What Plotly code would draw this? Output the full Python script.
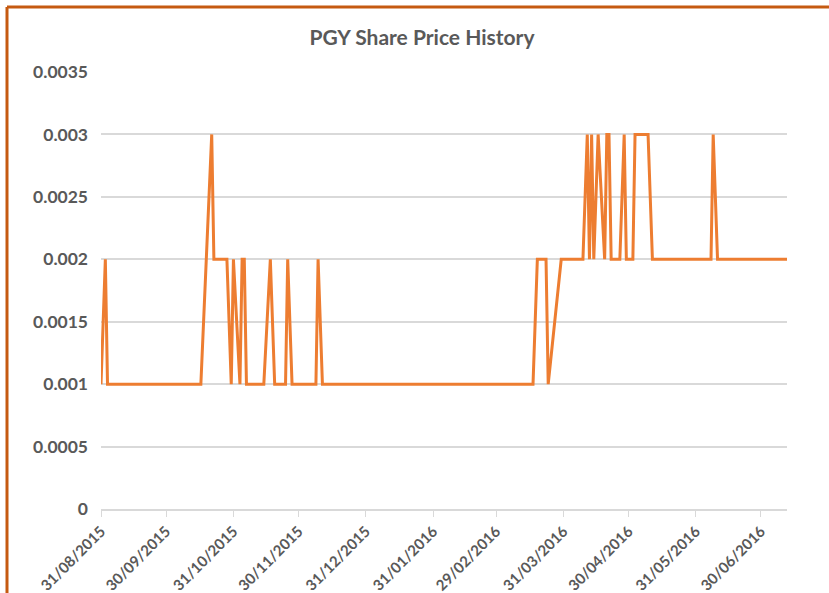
import plotly.graph_objects as go

dates = [
    "2015-08-31", "2015-09-02", "2015-09-03", "2015-10-16", "2015-10-21",
    "2015-10-22", "2015-10-28", "2015-10-30", "2015-10-31", "2015-11-03",
    "2015-11-04", "2015-11-05", "2015-11-06", "2015-11-14", "2015-11-17",
    "2015-11-19", "2015-11-24", "2015-11-25", "2015-11-27", "2015-12-08",
    "2015-12-09", "2015-12-11", "2016-03-17", "2016-03-19", "2016-03-23",
    "2016-03-24", "2016-03-30", "2016-04-09", "2016-04-11", "2016-04-12",
    "2016-04-13", "2016-04-14", "2016-04-16", "2016-04-19", "2016-04-20",
    "2016-04-21", "2016-04-22", "2016-04-26", "2016-04-28", "2016-04-29",
    "2016-05-02", "2016-05-03", "2016-05-09", "2016-05-11", "2016-06-07",
    "2016-06-08", "2016-06-10", "2016-07-12",
]
prices = [
    0.001, 0.002, 0.001, 0.001, 0.003,
    0.002, 0.002, 0.001, 0.002, 0.001,
    0.002, 0.002, 0.001, 0.001, 0.002,
    0.001, 0.001, 0.002, 0.001, 0.001,
    0.002, 0.001, 0.001, 0.002, 0.002,
    0.001, 0.002, 0.002, 0.003, 0.002,
    0.003, 0.002, 0.003, 0.002, 0.003,
    0.003, 0.002, 0.002, 0.003, 0.002,
    0.002, 0.003, 0.003, 0.002, 0.002,
    0.003, 0.002, 0.002,
]

tick_dates = [
    "2015-08-31", "2015-09-30", "2015-10-31", "2015-11-30", "2015-12-31",
    "2016-01-31", "2016-02-29", "2016-03-31", "2016-04-30", "2016-05-31",
    "2016-06-30",
]
tick_labels = [
    "31/08/2015", "30/09/2015", "31/10/2015", "30/11/2015", "31/12/2015",
    "31/01/2016", "29/02/2016", "31/03/2016", "30/04/2016", "31/05/2016",
    "30/06/2016",
]
y_ticks = [0, 0.0005, 0.001, 0.0015, 0.002, 0.0025, 0.003, 0.0035]
y_labels = ["0", "0.0005", "0.001", "0.0015", "0.002", "0.0025", "0.003", "0.0035"]

txt = "#595959"
fnt = "Lato"

fig = go.Figure()
fig.add_trace(go.Scatter(
    x=dates, y=prices, mode="lines",
    line=dict(color="#ED7D31", width=3),
    hoverinfo="x+y", showlegend=False,
))

W, H = 829, 593
ml, mr, mt, mb = 101, 42, 72, 84
pw = W - ml - mr
ph = H - mt - mb

def px_to_paper_x(px):
    return (px - ml) / pw

def px_to_paper_y(py):
    return (H - mb - py) / ph

fig.update_layout(
    width=W, height=H,
    margin=dict(l=ml, r=mr, t=mt, b=mb, autoexpand=False),
    paper_bgcolor="white", plot_bgcolor="white",
    title=dict(
        text="<b>PGY Share Price History</b>",
        x=422 / W, xref="container", xanchor="center",
        y=1 - 38 / H, yref="container", yanchor="middle",
        font=dict(family=fnt, size=21, color=txt),
    ),
    xaxis=dict(
        type="date",
        range=["2015-08-31", "2016-07-12"],
        tickvals=tick_dates, ticktext=tick_labels,
        tickangle=-45, automargin=False,
        tickfont=dict(family=fnt, size=15, color=txt, weight="bold"),
        showgrid=False,
        showline=True, linecolor="#D9D9D9", linewidth=1.5,
        ticks="outside", ticklen=6, tickcolor="#D9D9D9", tickwidth=1,
        zeroline=False,
    ),
    yaxis=dict(
        range=[0, 0.0035], automargin=False,
        tickvals=y_ticks, ticktext=y_labels,
        tickfont=dict(family=fnt, size=17.5, color=txt, weight="bold"),
        showgrid=True, gridcolor="#D9D9D9", gridwidth=1.5,
        zeroline=False, showline=False,
        ticks="", ticklabelstandoff=12,
    ),
    shapes=[
        dict(type="line", xref="paper", yref="paper",
             x0=px_to_paper_x(7), x1=px_to_paper_x(900),
             y0=px_to_paper_y(7), y1=px_to_paper_y(7),
             line=dict(color="#C55A11", width=3)),
        dict(type="line", xref="paper", yref="paper",
             x0=px_to_paper_x(7), x1=px_to_paper_x(7),
             y0=px_to_paper_y(7), y1=px_to_paper_y(700),
             line=dict(color="#C55A11", width=3)),
    ],
)

fig.write_html(
    "out.html",
    config={"displayModeBar": False},
    post_script="document.body.style.margin='0';document.body.style.padding='0';",
)
